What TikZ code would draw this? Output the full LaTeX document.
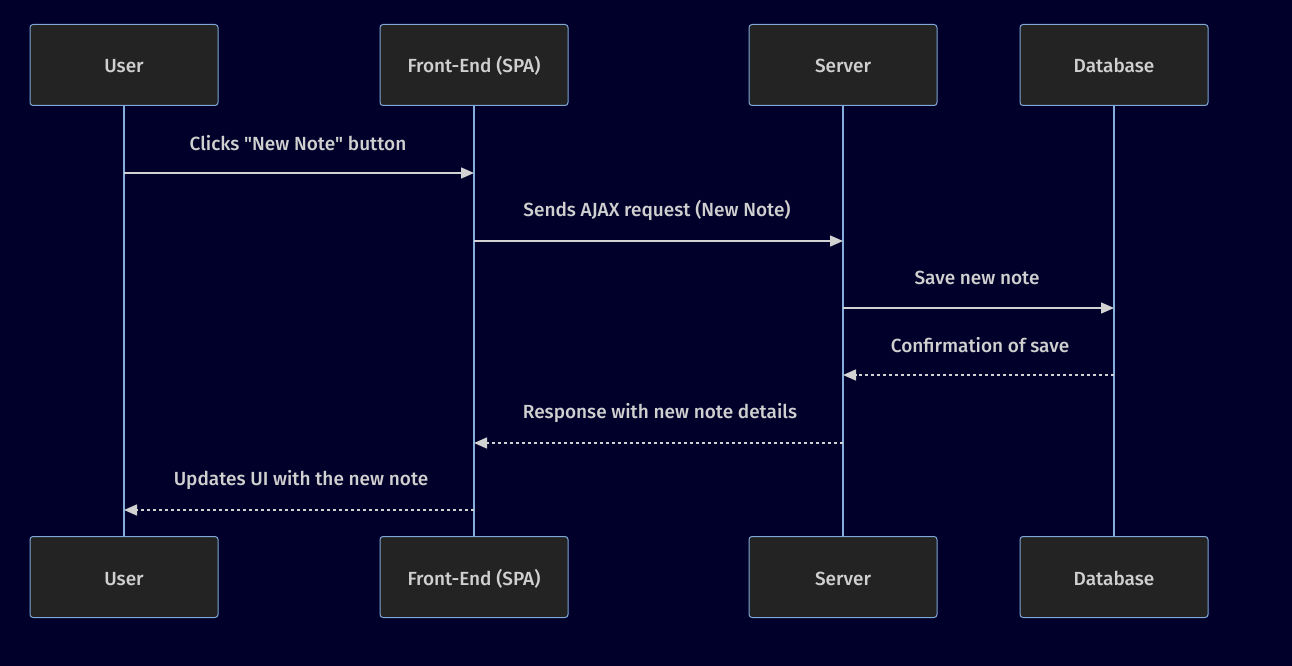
\documentclass[tikz,border=0pt]{standalone}
\usepackage{fontspec}
\setmainfont{Fira Sans}[UprightFont={Fira Sans Medium}]
\usetikzlibrary{arrows.meta}
\definecolor{bg}{HTML}{00002A}
\definecolor{boxfill}{HTML}{222322}
\definecolor{boxline}{HTML}{7FA8D8}
\definecolor{lifeline}{HTML}{86AEDC}
\definecolor{msg}{HTML}{D2D2D2}
\definecolor{txt}{HTML}{D0D0D0}
\newcommand{\straightquote}{\XeTeXglyph\XeTeXcharglyph"0022\relax}
\begin{document}
\begin{tikzpicture}[x=1pt,y=-1pt,
  actor/.style={draw=boxline, line width=1pt, fill=boxfill, rounded corners=3pt,
    minimum width=188pt, minimum height=81pt, text=txt, font=\fontsize{19}{22}\selectfont,
    inner sep=0pt, text height=16pt, text depth=0pt},
  life/.style={draw=lifeline, line width=2pt},
  message/.style={draw=msg, line width=1.5pt, -{Triangle[length=13pt,width=11pt]}},
  reply/.style={message, dash pattern=on 3pt off 3pt},
  lbl/.style={text=txt, font=\fontsize{19}{22}\selectfont, inner sep=0pt}]
\fill[bg] (0,0) rectangle (1292,666);
\useasboundingbox (0,0) rectangle (1292,666);
% lifelines
\draw[life] (124,105) -- (124,536);
\draw[life] (474,105) -- (474,536);
\draw[life] (843,105) -- (843,536);
\draw[life] (1114,105) -- (1114,536);
% actors top
\node[actor] (userT) at (124,65) {User};
\node[actor] (feT) at (474,65) {Front-End (SPA)};
\node[actor] (srvT) at (843,65) {Server};
\node[actor] (dbT) at (1114,65) {Database};
% actors bottom
\node[actor] (userB) at (124,577) {User};
\node[actor] (feB) at (474,577) {Front-End (SPA)};
\node[actor] (srvB) at (843,577) {Server};
\node[actor] (dbB) at (1114,577) {Database};
% message anchors
\coordinate (u1) at (124,173); \coordinate (f1) at (474,173);
\coordinate (f2) at (474,241); \coordinate (s2) at (843,241);
\coordinate (s3) at (843,308); \coordinate (d3) at (1114,308);
\coordinate (d4) at (1114,375); \coordinate (s4) at (843,375);
\coordinate (s5) at (843,443); \coordinate (f5) at (474,443);
\coordinate (f6) at (474,510); \coordinate (u6) at (124,510);
% messages
\draw[message] (u1) -- (f1);
\draw[message] (f2) -- (s2);
\draw[message] (s3) -- (d3);
\draw[reply] (d4) -- (s4);
\draw[reply] (s5) -- (f5);
\draw[reply] (f6) -- (u6);
% labels
\node[lbl] (l1) at (298,143) {Clicks \straightquote New Note\straightquote{} button};
\node[lbl] (l2) at (657,210) {Sends AJAX request (New Note)};
\node[lbl] (l3) at (977,278) {Save new note};
\node[lbl] (l4) at (980,345) {Confirmation of save};
\node[lbl] (l5) at (660,413) {Response with new note details};
\node[lbl] (l6) at (301,480) {Updates UI with the new note};
\end{tikzpicture}
\end{document}
